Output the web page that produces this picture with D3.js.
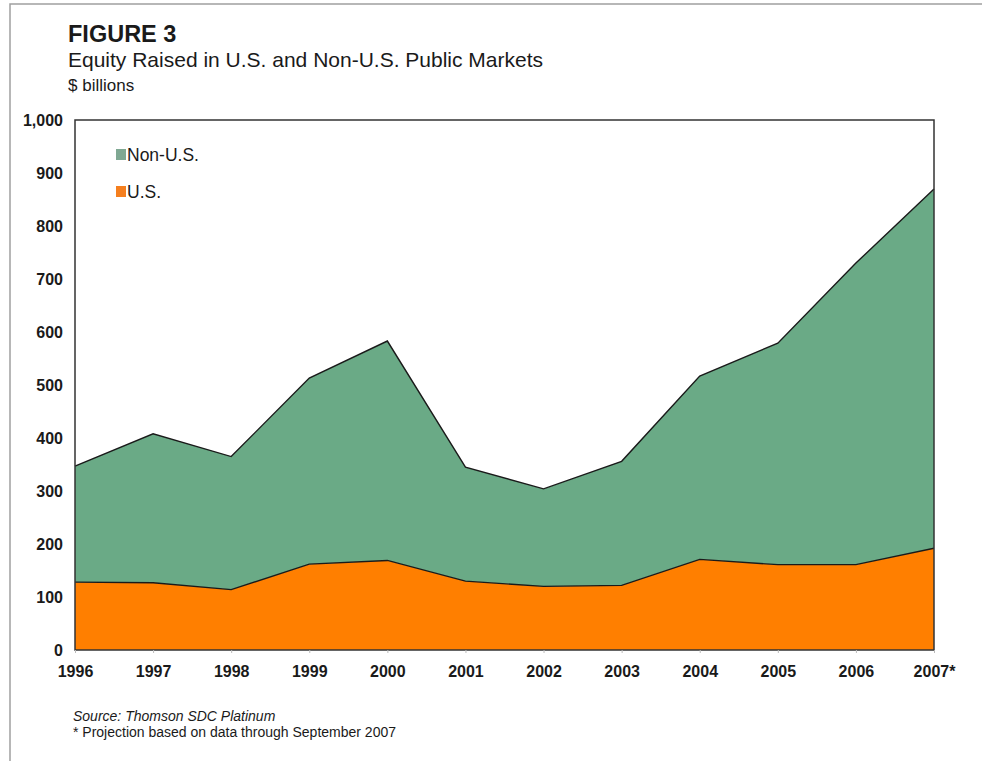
<!DOCTYPE html>
<html>
<head>
<meta charset="utf-8">
<script src="https://cdn.jsdelivr.net/npm/d3@7"></script>
<style>
  body { margin: 0; background: #fff; }
  text { font-family: Arial, "Liberation Sans", sans-serif; fill: #1a1a1a; }
</style>
</head>
<body>
<div id="chart"></div>
<script>
// Chart data ($ billions)
const years = ["1996", "1997", "1998", "1999", "2000", "2001", "2002", "2003", "2004", "2005", "2006", "2007*"];
const usValues = [128, 127, 114, 162, 169, 130, 120, 122, 171, 161, 161, 192];
const nonUsValues = [219, 281, 251, 351, 414, 215, 184, 234, 346, 418, 569, 678];
const yTicks = [0, 100, 200, 300, 400, 500, 600, 700, 800, 900, 1000];
const seriesNames = ["U.S.", "Non-U.S."];
const seriesColors = ["#ff7f00", "#6aaa86"];

const width = 982;
const height = 761;
const margin = { top: 120, right: 48, bottom: 111, left: 75 };

const svg = d3.select("#chart").append("svg")
    .attr("width", width)
    .attr("height", height);

// outer figure frame
svg.append("path")
    .attr("d", `M10,${height} V4 H${width}`)
    .attr("fill", "none")
    .attr("stroke", "#a0a0a0")
    .attr("stroke-width", 1.5);

// Titles
svg.append("text").attr("x", 68).attr("y", 41.5)
    .attr("font-size", 23.5).attr("font-weight", "bold")
    .text("FIGURE 3");
svg.append("text").attr("x", 68).attr("y", 67)
    .attr("font-size", 21)
    .text("Equity Raised in U.S. and Non-U.S. Public Markets");
svg.append("text").attr("x", 68).attr("y", 91)
    .attr("font-size", 17)
    .text("$ billions");

const rows = years.map((y, i) => ({ year: y, "U.S.": usValues[i], "Non-U.S.": nonUsValues[i] }));
const stack = d3.stack().keys(seriesNames)(rows);

const x = d3.scalePoint()
    .domain(years)
    .range([margin.left, width - margin.right]);

const y = d3.scaleLinear()
    .domain([0, 1000])
    .range([height - margin.bottom, margin.top]);

const area = d3.area()
    .x(d => x(d.data.year))
    .y0(d => y(d[0]))
    .y1(d => y(d[1]));

const line = d3.line()
    .x(d => x(d.data.year))
    .y(d => y(d[1]));

// Areas
svg.append("g")
  .selectAll("path")
  .data(stack)
  .enter().append("path")
    .attr("d", area)
    .attr("fill", (d, i) => seriesColors[i]);

// Boundary lines
svg.append("g")
  .selectAll("path")
  .data(stack)
  .enter().append("path")
    .attr("d", line)
    .attr("fill", "none")
    .attr("stroke", "#1a1a1a")
    .attr("stroke-width", 1.4);

// Plot frame
svg.append("rect")
    .attr("x", x(years[0]))
    .attr("y", y(1000))
    .attr("width", x(years[years.length - 1]) - x(years[0]))
    .attr("height", y(0) - y(1000))
    .attr("fill", "none")
    .attr("stroke", "#333")
    .attr("stroke-width", 1.5);

// Y axis labels
const yAxis = d3.axisLeft(y)
    .tickValues(yTicks)
    .tickFormat(d3.format(","))
    .tickSize(0)
    .tickPadding(12);

svg.append("g")
    .attr("transform", `translate(${margin.left},0)`)
    .call(yAxis)
    .call(g => g.select(".domain").remove())
    .call(g => g.selectAll("text")
        .attr("font-size", 16)
        .attr("font-weight", "bold")
        .attr("font-family", "Arial, 'Liberation Sans', sans-serif")
        .attr("fill", "#1a1a1a"));

// X axis
const xAxis = d3.axisBottom(x)
    .tickSize(3)
    .tickPadding(13);

svg.append("g")
    .attr("transform", `translate(0,${height - margin.bottom})`)
    .call(xAxis)
    .call(g => g.select(".domain").remove())
    .call(g => g.selectAll("line").attr("stroke", "#bbb"))
    .call(g => g.selectAll("text")
        .attr("font-size", 16)
        .attr("font-weight", "bold")
        .attr("font-family", "Arial, 'Liberation Sans', sans-serif")
        .attr("fill", "#1a1a1a"));

// Legend (Non-U.S. first)
const legend = svg.append("g")
  .selectAll("g")
  .data(seriesNames.slice().reverse())
  .enter().append("g")
    .attr("transform", (d, i) => `translate(116,${149 + i * 37})`);

legend.append("rect")
    .attr("width", 10)
    .attr("height", 11)
    .attr("fill", d => d === "U.S." ? "#f57f1e" : "#7fa893");

legend.append("text")
    .attr("x", 11)
    .attr("y", 12)
    .attr("font-size", 17.5)
    .text(d => d);

// Footnotes
svg.append("text").attr("x", 73).attr("y", 721)
    .attr("font-size", 14).attr("font-style", "italic")
    .text("Source: Thomson SDC Platinum");
svg.append("text").attr("x", 73).attr("y", 737)
    .attr("font-size", 14)
    .text("* Projection based on data through September 2007");
</script>
</body>
</html>
